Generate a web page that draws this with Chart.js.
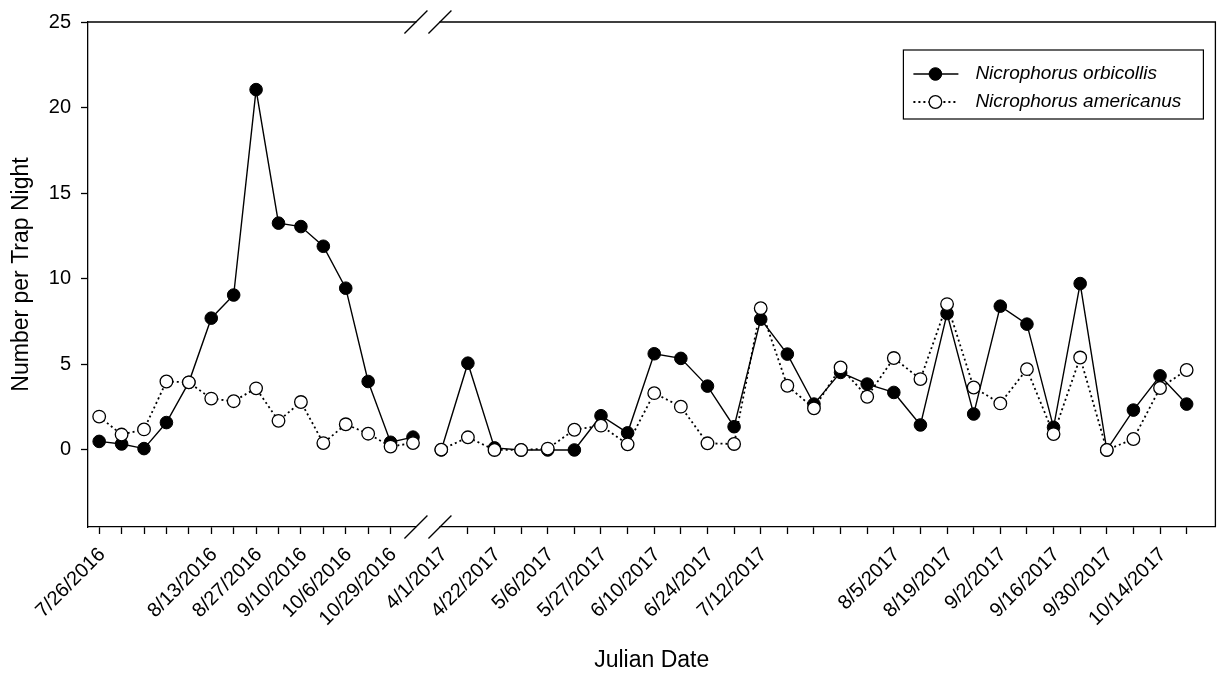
<!DOCTYPE html>
<html>
<head>
<meta charset="utf-8">
<title>Nicrophorus captures</title>
<script src="https://cdn.jsdelivr.net/npm/chart.js@4/dist/chart.umd.min.js"></script>
<style>
  html, body { margin:0; padding:0; background:#fff; }
  #wrap { width:1223px; height:677px; }
</style>
</head>
<body>
<div id="wrap"><canvas id="chart" width="1223" height="677"></canvas></div>
<script>
/* ---- data ---- */
const labels2016 = ['7/26/2016','','','','','8/13/2016','','8/27/2016','','9/10/2016','','10/6/2016','','10/29/2016',''];
const labels2017 = ['4/1/2017','','4/22/2017','','5/6/2017','','5/27/2017','','6/10/2017','','6/24/2017','','7/12/2017',
                    '','','','','8/5/2017','','8/19/2017','','9/2/2017','','9/16/2017','','9/30/2017','','10/14/2017',''];

const orbicollis2016 = [0.5, 0.35, 0.08, 1.6, 3.95, 7.7, 9.05, 21.05, 13.25, 13.05, 11.9, 9.45, 4.0, 0.45, 0.75];
const americanus2016 = [1.95, 0.9, 1.2, 4.0, 3.95, 3.0, 2.85, 3.6, 1.7, 2.8, 0.4, 1.5, 0.95, 0.2, 0.4];
const orbicollis2017 = [0, 5.07, 0.12, 0, 0, 0, 2.0, 1.0, 5.62, 5.35, 3.73, 1.36, 7.64, 5.6, 2.68, 4.53, 3.85, 3.36,
                        1.46, 7.97, 2.1, 8.4, 7.35, 1.32, 9.72, 0, 2.33, 4.33, 2.68];
const americanus2017 = [0.02, 0.74, 0, 0, 0.08, 1.18, 1.42, 0.33, 3.32, 2.53, 0.39, 0.35, 8.28, 3.75, 2.43, 4.82, 3.11, 5.37,
                        4.14, 8.52, 3.65, 2.72, 4.72, 0.93, 5.4, 0, 0.64, 3.62, 4.67];

const yTicks = [0, 5, 10, 15, 20, 25];

/* ---- axis layout (units = one 2017 sampling step, 4/1/2017 = 0) ---- */
const STEP_2016  = 0.842;    // 2016 samples sit closer together
const START_2016 = -12.85;
const X_MIN = -13.27, X_MAX = 29.08;
const BREAK_AT = -0.5;
const FONT = '"Liberation Sans", Arial, Helvetica, sans-serif';

const pos2016 = labels2016.map((_, i) => START_2016 + i * STEP_2016);
const pos2017 = labels2017.map((_, i) => i);

function series(v16, v17) {
  return [
    ...v16.map((y, i) => ({ x: pos2016[i], y })),
    { x: BREAK_AT, y: null },                      // line is broken across the axis break
    ...v17.map((y, i) => ({ x: pos2017[i], y }))
  ];
}

/* tick marks next to the break are not drawn, their labels are */
const xTicks = [
  ...pos2016.map((v, i) => ({ value: v, text: labels2016[i], mark: i < pos2016.length - 1 })),
  ...pos2017.map((v, i) => ({ value: v, text: labels2017[i], mark: i > 0 }))
];

/* ---- frame + axis break ---- */
const frame = {
  id: 'frame',
  afterDraw(chart) {
    const { ctx, chartArea: { left, right, top, bottom }, scales: { x } } = chart;
    const bx = x.getPixelForValue(BREAK_AT);
    ctx.save();
    ctx.strokeStyle = '#000';
    ctx.lineWidth = 1.3;
    ctx.beginPath();
    ctx.moveTo(left, top); ctx.lineTo(right, top); ctx.lineTo(right, bottom);
    ctx.stroke();
    ctx.fillStyle = '#fff';
    [top, bottom].forEach(yy => {
      ctx.fillRect(bx - 11.5, yy - 3, 23, 6);
      ctx.beginPath();
      [-1, 1].forEach(s => {
        const cx = bx + s * 12;
        ctx.moveTo(cx - 11.5, yy + 11.5);
        ctx.lineTo(cx + 11.5, yy - 11.5);
      });
      ctx.stroke();
    });
    ctx.restore();
  }
};

/* ---- boxed legend inside the plot ---- */
const legendBox = {
  id: 'legendBox',
  afterDraw(chart) {
    const { ctx, chartArea: { right, top } } = chart;
    const x0 = right - 312, y0 = top + 28, w = 300, h = 69;
    ctx.save();
    ctx.fillStyle = '#fff';
    ctx.fillRect(x0, y0, w, h);
    ctx.strokeStyle = '#000';
    ctx.lineWidth = 1.2;
    ctx.strokeRect(x0, y0, w, h);
    ctx.font = 'italic 19px ' + FONT;
    ctx.textBaseline = 'middle';
    chart.data.datasets.forEach((ds, i) => {
      const ly = y0 + 24 + i * 28;
      ctx.strokeStyle = ds.borderColor;
      ctx.lineWidth = ds.borderWidth;
      ctx.setLineDash(ds.borderDash || []);
      ctx.beginPath(); ctx.moveTo(x0 + 10, ly); ctx.lineTo(x0 + 55, ly); ctx.stroke();
      ctx.setLineDash([]);
      ctx.beginPath();
      ctx.arc(x0 + 32, ly, ds.pointRadius, 0, Math.PI * 2);
      ctx.fillStyle = ds.pointBackgroundColor;
      ctx.fill();
      ctx.lineWidth = ds.pointBorderWidth;
      ctx.strokeStyle = ds.pointBorderColor;
      ctx.stroke();
      ctx.fillStyle = '#000';
      ctx.fillText(ds.label, x0 + 72, ly);
    });
    ctx.restore();
  }
};

new Chart(document.getElementById('chart'), {
  type: 'line',
  data: {
    datasets: [
      { label: 'Nicrophorus orbicollis', data: series(orbicollis2016, orbicollis2017),
        borderColor: '#000', borderWidth: 1.4, tension: 0, spanGaps: false, order: 2,
        pointRadius: 6.3, pointBackgroundColor: '#000', pointBorderColor: '#000', pointBorderWidth: 1 },
      { label: 'Nicrophorus americanus', data: series(americanus2016, americanus2017),
        borderColor: '#000', borderWidth: 1.8, borderDash: [2, 3], tension: 0, spanGaps: false, order: 1,
        pointRadius: 6.3, pointBackgroundColor: '#fff', pointBorderColor: '#000', pointBorderWidth: 1.3 }
    ]
  },
  options: {
    responsive: false,
    animation: false,
    devicePixelRatio: 1,
    layout: { padding: { top: 21, right: 6, left: 0, bottom: 0 } },
    plugins: { legend: { display: false }, tooltip: { enabled: false } },
    scales: {
      x: {
        type: 'linear', min: X_MIN, max: X_MAX,
        afterFit: s => { s.height = 150; },
        afterBuildTicks: s => { s.ticks = xTicks.map(t => ({ ...t })); },
        ticks: {
          autoSkip: false, maxRotation: 45, minRotation: 45, padding: 9, labelOffset: 3, color: '#000',
          font: { family: FONT, size: 20 },
          callback: (v, i, t) => t[i].text
        },
        grid: {
          drawOnChartArea: false, tickLength: 7, tickWidth: 1.3,
          tickColor: c => (c.tick && c.tick.mark) ? '#000' : 'rgba(0,0,0,0)'
        },
        border: { color: '#000', width: 1.3 },
        title: { display: true, text: 'Julian Date', color: '#000',
                 font: { family: FONT, size: 23 }, padding: { top: 0, bottom: 3 } }
      },
      y: {
        min: -4.5, max: 25,
        afterFit: s => { s.width = 88; },
        afterBuildTicks: s => { s.ticks = yTicks.map(v => ({ value: v })); },
        ticks: { padding: 10, color: '#000', font: { family: FONT, size: 20 } },
        grid: { drawOnChartArea: false, tickLength: 7, tickWidth: 1.3, tickColor: '#000' },
        border: { color: '#000', width: 1.3 },
        title: { display: true, text: 'Number per Trap Night', color: '#000',
                 font: { family: FONT, size: 23 }, padding: { top: 8, bottom: 0 } }
      }
    }
  },
  plugins: [frame, legendBox]
});
</script>
</body>
</html>
